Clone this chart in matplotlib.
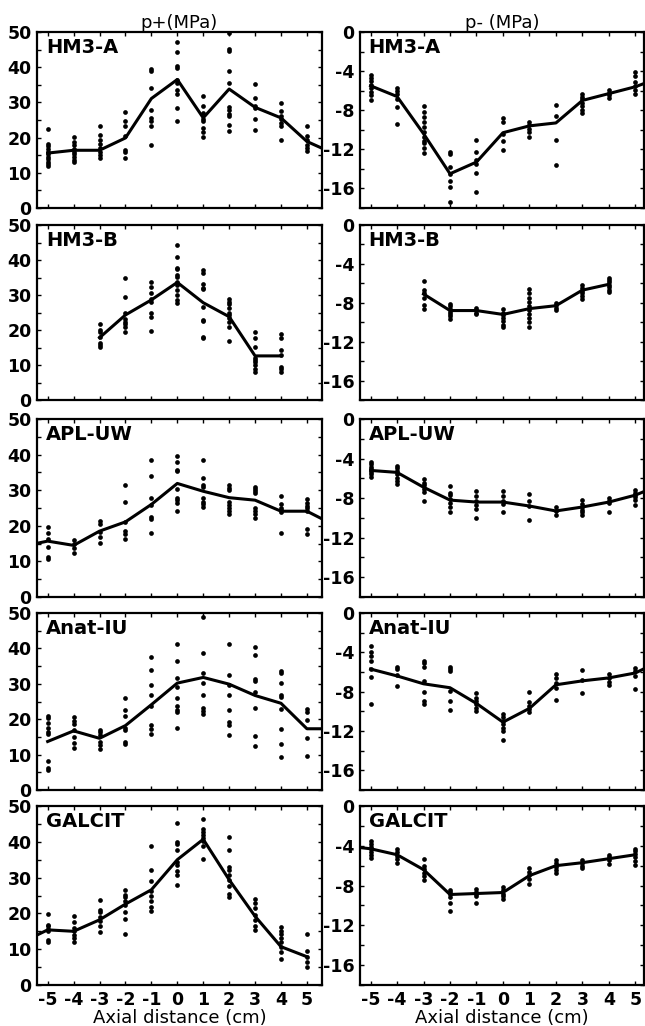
import matplotlib
matplotlib.use('Agg')
import matplotlib.pyplot as plt
from matplotlib.ticker import MultipleLocator

plt.rcParams['font.family'] = 'DejaVu Sans'
plt.rcParams['axes.unicode_minus'] = False

# ---------------- HM3-A ----------------
hm3a_pos_x = [-5, -4, -3, -2, -1, 0, 1, 2, 3, 4, 5]
hm3a_pos_pts = [
    [22.4, 18.3, 17.5, 16.8, 16.0, 15.2, 14.5, 13.8, 13.0, 12.4, 11.9],
    [20.2, 18.7, 17.8, 16.8, 16.0, 15.2, 14.4, 13.6, 13.2],
    [23.4, 20.8, 19.4, 18.3, 17.0, 16.0, 15.0, 14.2],
    [27.3, 24.6, 23.2, 20.4, 16.6, 15.9, 14.2],
    [39.5, 38.8, 34.1, 27.9, 25.6, 24.6, 23.2, 18.0],
    [47.1, 44.2, 40.2, 39.8, 36.5, 35.5, 33.6, 32.4, 28.4, 24.6],
    [31.7, 28.9, 27.0, 25.4, 24.6, 22.7, 21.5, 20.2],
    [49.7, 45.2, 44.5, 39.0, 35.5, 28.7, 27.9, 26.8, 26.2, 23.7, 21.8],
    [35.3, 31.2, 29.1, 28.4, 25.3, 22.3],
    [29.8, 27.5, 26.2, 25.3, 24.1, 23.2, 19.4],
    [23.2, 20.4, 19.4, 18.0, 17.0, 16.1],
]
hm3a_pos_mean_x = [-5, -4, -3, -2, -1, 0, 1, 2, 3, 4, 5, 6]
hm3a_pos_mean = [15.6, 16.4, 16.4, 19.9, 31.1, 36.5, 25.6, 33.8, 28.6, 25.6, 18.9, 15.6]

hm3a_neg_x = [-5, -4, -3, -2, -1, 0, 1, 2, 3, 4, 5]
hm3a_neg_pts = [
    [-4.4, -4.7, -5.0, -5.4, -5.7, -6.1, -6.4, -7.0],
    [-5.7, -6.0, -6.3, -6.9, -7.7, -9.4],
    [-7.6, -8.2, -8.7, -9.2, -9.7, -10.2, -10.7, -11.1, -11.4, -11.9, -12.4],
    [-12.3, -12.5, -13.8, -14.5, -15.2, -15.9, -17.4],
    [-11.0, -12.3, -13.1, -13.5, -14.4, -16.4],
    [-8.8, -9.2, -10.4, -11.1, -12.1],
    [-9.2, -9.5, -9.9, -10.2, -10.7],
    [-7.5, -8.6, -11.0, -13.6],
    [-6.3, -6.6, -6.9, -7.3, -7.6, -8.0, -8.3],
    [-5.9, -6.2, -6.4, -6.7],
    [-4.1, -4.5, -5.1, -5.5, -5.9, -6.3],
]
hm3a_neg_mean_x = [-5, -4, -3, -2, -1, 0, 1, 2, 3, 4, 5, 6]
hm3a_neg_mean = [-5.5, -6.6, -10.4, -14.5, -13.3, -10.3, -9.6, -9.3, -7.0, -6.3, -5.6, -4.6]

# ---------------- HM3-B ----------------
hm3b_pos_x = [-3, -2, -1, 0, 1, 2, 3, 4]
hm3b_pos_pts = [
    [21.6, 20.0, 19.5, 18.1, 16.2, 15.7, 15.2],
    [35.0, 29.5, 24.8, 23.1, 22.4, 21.6, 21.0, 19.5],
    [33.8, 32.4, 30.5, 29.0, 28.1, 24.8, 23.8, 19.7],
    [44.3, 41.0, 37.8, 37.4, 35.7, 35.2, 33.8, 32.9, 31.4, 30.0, 28.6, 27.6],
    [37.1, 36.2, 33.1, 31.9, 31.6, 26.7, 22.9, 22.6, 18.1, 17.6],
    [28.9, 28.1, 27.4, 26.3, 25.0, 24.3, 23.3, 22.2, 21.0, 16.9],
    [19.5, 17.6, 15.2, 12.1, 11.4, 10.9, 10.0, 9.0, 8.1],
    [19.0, 17.8, 14.3, 13.0, 9.5, 8.8, 8.1],
]
hm3b_pos_mean_x = [-3, -2, -1, 0, 1, 2, 3, 4]
hm3b_pos_mean = [17.8, 24.3, 28.6, 33.6, 27.8, 23.8, 12.6, 12.6]

hm3b_neg_x = [-3, -2, -1, 0, 1, 2, 3, 4]
hm3b_neg_pts = [
    [-5.8, -6.7, -7.0, -7.5, -8.2, -8.6],
    [-8.1, -8.3, -8.6, -8.9, -9.2, -9.4, -9.7],
    [-8.5, -8.7, -9.0, -9.2],
    [-8.6, -9.0, -9.3, -9.6, -9.9, -10.3, -10.5],
    [-6.6, -7.0, -7.5, -7.9, -8.3, -8.7, -9.2, -9.6, -10.0, -10.5],
    [-8.0, -8.2, -8.5, -8.7],
    [-6.2, -6.5, -6.8, -7.0, -7.3, -7.6],
    [-5.4, -5.7, -5.9, -6.2, -6.4, -6.7, -6.9],
]
hm3b_neg_mean_x = [-3, -2, -1, 0, 1, 2, 3, 4]
hm3b_neg_mean = [-7.1, -8.8, -8.8, -9.2, -8.6, -8.3, -6.7, -6.1]

# ---------------- APL-UW ----------------
apl_pos_x = [-5, -4, -3, -2, -1, 0, 1, 2, 3, 4, 5]
apl_pos_pts = [
    [19.7, 18.0, 16.4, 14.1, 11.3, 10.8],
    [15.9, 14.9, 13.8, 12.5],
    [21.3, 20.6, 18.3, 16.9, 15.2],
    [31.4, 26.7, 21.1, 18.5, 17.8, 16.2],
    [38.5, 34.1, 27.7, 25.8, 22.5, 21.9, 18.0],
    [39.7, 37.8, 35.6, 35.3, 30.3, 27.9, 27.2, 26.5, 24.1],
    [38.5, 33.5, 31.4, 31.0, 27.7, 26.7, 26.0, 25.3],
    [31.4, 30.7, 30.0, 26.7, 25.8, 24.9, 24.1, 23.2],
    [31.0, 30.3, 29.8, 29.1, 24.9, 24.1, 23.2, 22.2],
    [28.4, 26.0, 25.0, 24.4, 23.9, 18.0],
    [27.5, 26.5, 25.6, 25.0, 24.1, 19.2, 17.8],
]
apl_pos_mean_x = [-6, -5, -4, -3, -2, -1, 0, 1, 2, 3, 4, 5, 6]
apl_pos_mean = [14.2, 15.7, 14.5, 18.5, 21.1, 26.0, 31.9, 29.7, 27.9, 27.2, 24.1, 24.1, 20.4]

apl_neg_x = [-5, -4, -3, -2, -1, 0, 1, 2, 3, 4, 5]
apl_neg_pts = [
    [-4.3, -4.6, -4.9, -5.1, -5.4, -5.6, -5.9],
    [-4.8, -5.0, -5.3, -5.6, -6.0, -6.3, -6.6],
    [-6.1, -6.5, -6.7, -7.1, -7.4, -8.3],
    [-6.8, -7.5, -7.7, -8.1, -8.5, -8.9, -9.4],
    [-7.3, -7.8, -8.3, -8.7, -9.1, -10.0],
    [-7.3, -7.8, -8.3, -8.6, -9.4],
    [-7.6, -8.3, -8.8, -10.2],
    [-8.9, -9.3, -9.7],
    [-8.2, -8.6, -8.9, -9.2, -9.4, -9.7],
    [-8.0, -8.3, -8.5, -9.4],
    [-7.2, -7.5, -7.7, -7.9, -8.2, -8.7],
]
apl_neg_mean_x = [-5, -4, -3, -2, -1, 0, 1, 2, 3, 4, 5, 6]
apl_neg_mean = [-5.2, -5.4, -6.9, -8.2, -8.4, -8.4, -8.8, -9.3, -8.9, -8.4, -7.7, -6.6]

# ---------------- Anat-IU ----------------
anat_pos_x = [-5, -4, -3, -2, -1, 0, 1, 2, 3, 4, 5]
anat_pos_pts = [
    [21.0, 20.3, 18.9, 17.6, 16.5, 15.8, 8.2, 6.3, 5.7],
    [20.5, 19.6, 18.6, 17.0, 15.1, 13.2, 12.0],
    [17.0, 16.3, 15.4, 13.7, 12.7, 11.6],
    [26.1, 22.6, 20.8, 17.6, 17.0, 13.7, 12.9],
    [37.5, 34.0, 29.7, 26.7, 23.6, 18.4, 17.3, 15.8],
    [41.2, 36.3, 31.6, 29.2, 26.1, 23.6, 22.6, 22.0, 17.5],
    [49.0, 38.7, 33.0, 30.2, 26.9, 23.1, 22.2, 21.4],
    [41.2, 32.4, 29.7, 26.9, 22.6, 19.2, 18.4, 15.6],
    [40.3, 38.0, 31.4, 30.7, 27.6, 23.1, 15.3, 12.3],
    [33.7, 33.0, 30.2, 26.9, 26.4, 22.9, 17.3, 12.9, 9.2],
    [22.9, 22.0, 19.8, 14.8, 9.7],
]
anat_pos_mean_x = [-5, -4, -3, -2, -1, 0, 1, 2, 3, 4, 5, 6]
anat_pos_mean = [13.7, 16.7, 14.6, 18.2, 24.1, 30.2, 31.8, 29.9, 26.7, 24.5, 17.3, 17.3]

anat_neg_x = [-5, -4, -3, -2, -1, 0, 1, 2, 3, 4, 5]
anat_neg_pts = [
    [-3.4, -4.0, -4.4, -4.9, -5.7, -6.5, -9.3],
    [-5.5, -5.7, -6.3, -7.4],
    [-4.9, -5.1, -5.5, -6.9, -8.0, -8.9, -9.3],
    [-5.5, -5.7, -5.9, -7.9, -8.9, -9.9],
    [-8.1, -8.6, -8.9, -9.3, -9.7, -10.0],
    [-10.3, -10.6, -11.0, -11.3, -11.7, -12.0, -12.9],
    [-8.0, -9.0, -9.5, -9.8, -10.1],
    [-6.2, -6.6, -7.1, -7.6, -8.8],
    [-5.8, -6.8, -8.1],
    [-6.2, -6.6, -7.0, -7.3],
    [-5.6, -5.9, -6.4, -7.7],
]
anat_neg_mean_x = [-5, -4, -3, -2, -1, 0, 1, 2, 3, 4, 5, 6]
anat_neg_mean = [-5.7, -6.4, -7.2, -7.6, -9.2, -11.1, -9.7, -7.3, -6.9, -6.6, -6.1, -4.8]

# ---------------- GALCIT ----------------
galcit_pos_x = [-5, -4, -3, -2, -1, 0, 1, 2, 3, 4, 5]
galcit_pos_pts = [
    [19.8, 16.8, 16.4, 15.6, 15.0, 12.7, 12.1],
    [19.4, 17.5, 16.0, 15.0, 14.1, 13.1, 12.1],
    [23.8, 21.0, 20.3, 18.9, 17.8, 16.4, 14.8],
    [26.6, 25.2, 24.5, 23.6, 22.4, 20.4, 18.5, 14.2],
    [38.8, 32.2, 29.0, 26.2, 25.0, 23.6, 21.7, 20.7],
    [45.3, 40.0, 39.4, 37.6, 34.4, 33.6, 31.8, 30.8, 27.9],
    [46.3, 43.7, 42.8, 41.9, 41.1, 40.2, 38.8, 35.3],
    [41.3, 37.6, 32.9, 32.0, 30.8, 29.2, 27.6, 25.4, 24.5],
    [24.1, 22.9, 21.5, 19.6, 18.2, 16.4, 15.4],
    [16.1, 15.1, 14.2, 13.1, 12.1, 10.5, 9.2, 7.3],
    [14.2, 9.5, 7.9, 6.5, 5.1],
]
galcit_pos_mean_x = [-6, -5, -4, -3, -2, -1, 0, 1, 2, 3, 4, 5]
galcit_pos_mean = [11.9, 15.4, 15.0, 18.2, 22.6, 26.6, 35.0, 40.7, 29.4, 19.2, 10.7, 7.9]

galcit_neg_x = [-5, -4, -3, -2, -1, 0, 1, 2, 3, 4, 5]
galcit_neg_pts = [
    [-3.5, -3.8, -4.1, -4.3, -4.6, -4.9, -5.2],
    [-4.3, -4.6, -5.0, -5.3, -5.7],
    [-5.3, -6.0, -6.3, -6.7, -7.0, -7.4],
    [-8.4, -8.6, -8.8, -9.2, -9.8, -10.6],
    [-8.3, -8.6, -8.8, -9.1, -9.8],
    [-8.1, -8.4, -8.8, -9.1, -9.4],
    [-6.2, -6.6, -6.9, -7.3, -7.8],
    [-5.4, -5.7, -6.1, -6.4, -6.7],
    [-5.4, -5.7, -6.0, -6.2],
    [-4.9, -5.1, -5.4, -5.8],
    [-4.3, -4.5, -4.8, -5.1, -5.5, -5.9],
]
galcit_neg_mean_x = [-6, -5, -4, -3, -2, -1, 0, 1, 2, 3, 4, 5]
galcit_neg_mean = [-4.0, -4.3, -4.9, -6.4, -8.9, -8.8, -8.7, -7.0, -6.0, -5.7, -5.3, -4.9]

labels = ['HM3-A', 'HM3-B', 'APL-UW', 'Anat-IU', 'GALCIT']
xticks = [-5, -4, -3, -2, -1, 0, 1, 2, 3, 4, 5]

pos_rows = [
    (hm3a_pos_x, hm3a_pos_pts, hm3a_pos_mean_x, hm3a_pos_mean),
    (hm3b_pos_x, hm3b_pos_pts, hm3b_pos_mean_x, hm3b_pos_mean),
    (apl_pos_x, apl_pos_pts, apl_pos_mean_x, apl_pos_mean),
    (anat_pos_x, anat_pos_pts, anat_pos_mean_x, anat_pos_mean),
    (galcit_pos_x, galcit_pos_pts, galcit_pos_mean_x, galcit_pos_mean),
]
neg_rows = [
    (hm3a_neg_x, hm3a_neg_pts, hm3a_neg_mean_x, hm3a_neg_mean),
    (hm3b_neg_x, hm3b_neg_pts, hm3b_neg_mean_x, hm3b_neg_mean),
    (apl_neg_x, apl_neg_pts, apl_neg_mean_x, apl_neg_mean),
    (anat_neg_x, anat_neg_pts, anat_neg_mean_x, anat_neg_mean),
    (galcit_neg_x, galcit_neg_pts, galcit_neg_mean_x, galcit_neg_mean),
]

W, H = 645.0, 1026.0
row_px = [(32, 208), (225, 400), (419, 597), (613, 790), (806, 985)]
col_px = [(37.3, 321.7), (360.0, 643.8)]


def draw_panel(ax, data, label):
    xs, pts, mx, my = data
    for x, vals in zip(xs, pts):
        ax.plot([x] * len(vals), vals, 'o', color='black', ms=3.4, mew=0)
    ax.plot(mx, my, '-', color='black', lw=2.2)
    ax.text(0.03, 0.965, label, transform=ax.transAxes, ha='left', va='top',
            fontsize=14, fontweight='bold')
    ax.set_xticks(xticks)
    ax.tick_params(direction='in', top=True, right=True, length=3, width=1,
                   labelsize=12.5, pad=4)
    ax.tick_params(which='minor', direction='in', top=True, right=True,
                   length=3, width=1)
    for sp in ax.spines.values():
        sp.set_linewidth(1.6)


fig = plt.figure(figsize=(W / 100, H / 100), dpi=100)

for r in range(5):
    top, bot = row_px[r]
    b = 1 - bot / H
    h = (bot - top) / H
    # left column p+
    l0, r0 = col_px[0]
    ax = fig.add_axes([l0 / W, b, (r0 - l0) / W, h])
    draw_panel(ax, pos_rows[r], labels[r])
    ax.set_xlim(-5.4, 5.57)
    ax.set_ylim(0, 50)
    ax.yaxis.set_major_locator(MultipleLocator(10))
    ax.yaxis.set_minor_locator(MultipleLocator(5))
    if r == 0:
        ax.set_title('p+(MPa)', fontsize=13, pad=3)
    if r == 4:
        ax.set_xlabel('Axial distance (cm)', fontsize=13, labelpad=0)
    else:
        ax.tick_params(labelbottom=False)
    for lab in ax.get_xticklabels() + ax.get_yticklabels():
        lab.set_fontweight('bold')

    # right column p-
    l1, r1 = col_px[1]
    ax = fig.add_axes([l1 / W, b, (r1 - l1) / W, h])
    draw_panel(ax, neg_rows[r], labels[r])
    ax.set_xlim(-5.4, 5.32)
    ax.set_ylim(-18, 0)
    ax.set_yticks([0, -4, -8, -12, -16])
    ax.yaxis.set_minor_locator(MultipleLocator(2))
    if r == 0:
        ax.set_title('p- (MPa)', fontsize=13, pad=3)
    if r == 4:
        ax.set_xlabel('Axial distance (cm)', fontsize=13, labelpad=0)
    else:
        ax.tick_params(labelbottom=False)
    for lab in ax.get_xticklabels() + ax.get_yticklabels():
        lab.set_fontweight('bold')

fig.savefig('out.png', dpi=100)
